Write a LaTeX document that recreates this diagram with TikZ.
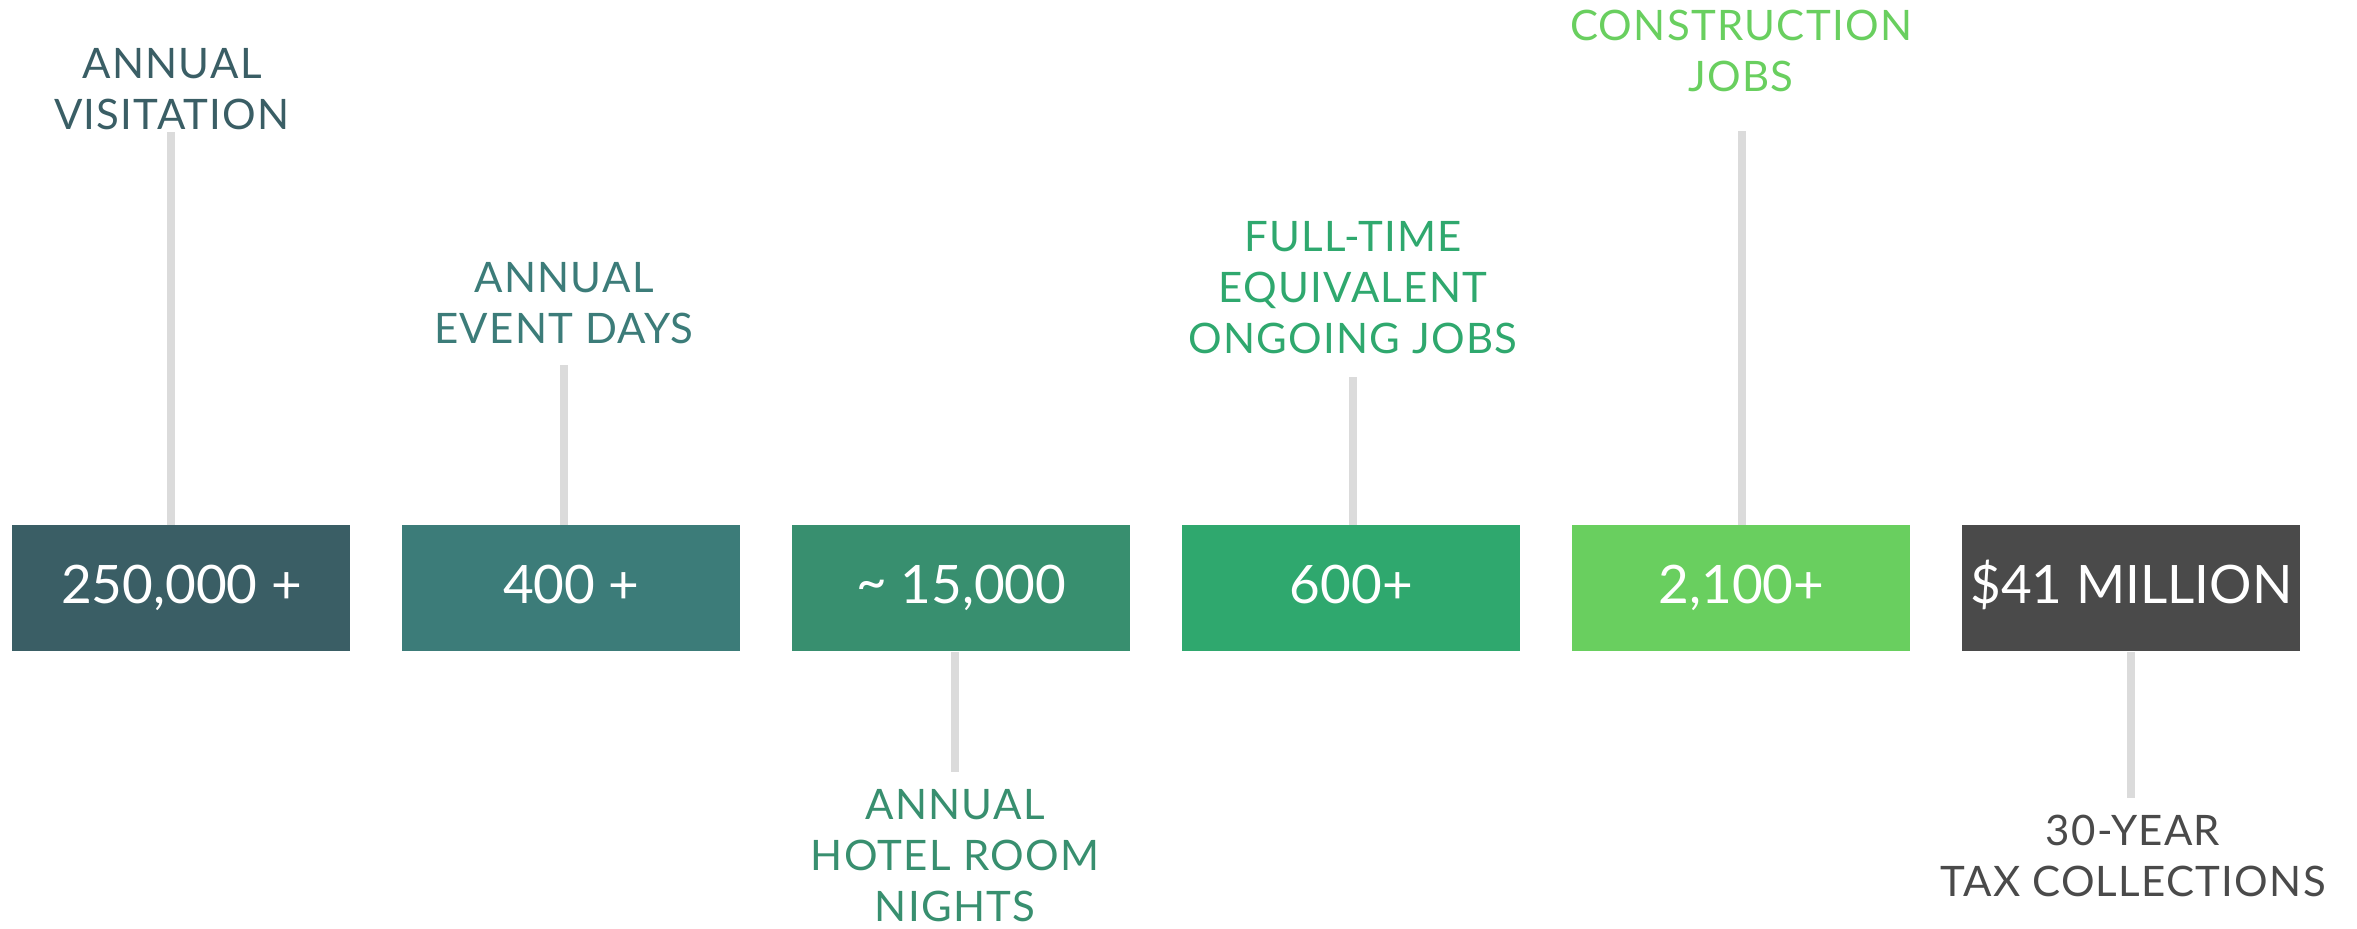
\documentclass[tikz,border=0pt]{standalone}
\usepackage{fontspec}
\setmainfont{Lato}
\newfontfamily\lblfont[LetterSpace=3]{Lato}
\definecolor{cA}{HTML}{3A5E65}
\definecolor{cB}{HTML}{3C7C79}
\definecolor{cC}{HTML}{388F6F}
\definecolor{cD}{HTML}{2FA86E}
\definecolor{cE}{HTML}{69CF5F}
\definecolor{cF}{HTML}{4A4A4A}
\definecolor{stemgray}{HTML}{DBDBDB}
\tikzset{
  numbox/.style={fill=#1, text=white, draw=none, inner sep=0pt,
    minimum width=169pt, minimum height=63pt, anchor=north west,
    text height=19pt, text depth=4pt,
    font=\fontsize{26.5pt}{30pt}\selectfont},
  lbl/.style={text=#1, align=center, inner sep=0pt, anchor=north,
    font=\lblfont\fontsize{21pt}{25.5pt}\selectfont},
  stem/.style={draw=stemgray, line width=4pt}
}
\begin{document}
\begin{tikzpicture}[x=0.5pt,y=-0.5pt]
\useasboundingbox (0,0) rectangle (2357,928);
% boxes
\node[numbox=cA] (b1) at (12,525) {250,000 +};
\node[numbox=cB] (b2) at (402,525) {400 +};
\node[numbox=cC] (b3) at (792,525) {\raisebox{0.05em}{\char"007E}\ 15,000};
\node[numbox=cD] (b4) at (1182,525) {600+};
\node[numbox=cE] (b5) at (1572,525) {2,100+};
\node[numbox=cF] (b6) at (1962,525) {\$41 MILLION};
% labels
\node[lbl=cA] (l1) at (172,48) {ANNUAL\\VISITATION};
\node[lbl=cB] (l2) at (564,262) {ANNUAL\\EVENT DAYS};
\node[lbl=cC] (l3) at (955,789) {ANNUAL\\HOTEL ROOM\\NIGHTS};
\node[lbl=cD] (l4) at (1353,221) {FULL-TIME\\EQUIVALENT\\ONGOING JOBS};
\node[lbl=cE] (l5) at (1741,10) {CONSTRUCTION\\JOBS};
\node[lbl=cF] (l6) at (2133,815) {30-YEAR\\TAX COLLECTIONS};
% stem ends
\coordinate (s1) at (171,132);
\coordinate (s2) at (564,365);
\coordinate (s3) at (955,772);
\coordinate (s4) at (1353,377);
\coordinate (s5) at (1742,131);
\coordinate (s6) at (2131,798);
% stems
\draw[stem] (b1.north -| s1) -- (s1);
\draw[stem] (b2.north -| s2) -- (s2);
\draw[stem] (b3.south -| s3) -- (s3);
\draw[stem] (b4.north -| s4) -- (s4);
\draw[stem] (b5.north -| s5) -- (s5);
\draw[stem] (b6.south -| s6) -- (s6);
\end{tikzpicture}
\end{document}
